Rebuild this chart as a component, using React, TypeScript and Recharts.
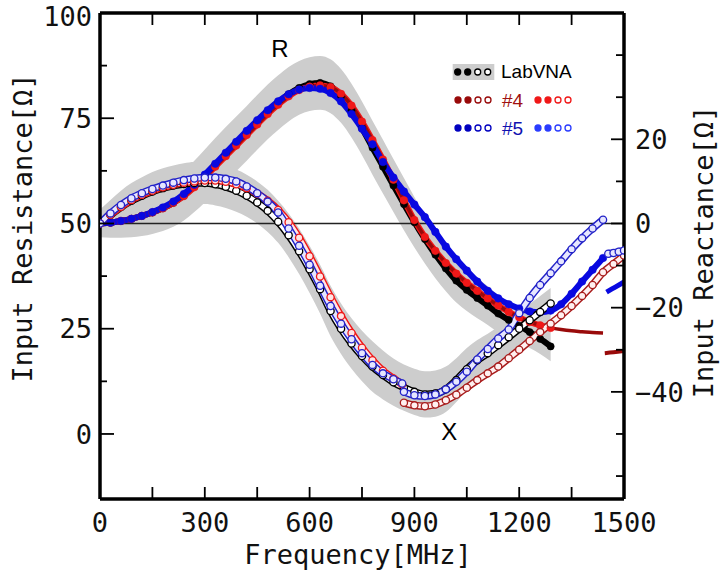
import React from 'react';
import { ComposedChart, Line, Area, XAxis, YAxis, ReferenceLine, ReferenceDot, Legend, Label } from 'recharts';

// ---------- data (frequency in MHz, R in ohm on left axis, X in ohm on right axis) ----------
const F_MAIN = [0, 30, 60, 90, 120, 150, 180, 210, 240, 270, 300, 330, 360, 390, 420, 450, 480, 510, 540, 570, 600, 630, 660, 690, 720, 750, 780, 810, 840, 870, 900, 930, 960, 990, 1020, 1050, 1080, 1110, 1140, 1170, 1200, 1230, 1260, 1290];
const F_EXT = [...F_MAIN, 1320, 1350, 1380, 1410, 1440];
const F_X1 = [...F_MAIN.slice(0, 29), 865];
const F_X2B = F_EXT.slice(29);
const F_X2D = [...F_X2B, 1470, 1500];
const F_X3B = [1455, 1470, 1485, 1500];
const F_SEG_R4 = [1445, 1470, 1500];
const F_SEG_B5 = [1450, 1475, 1500];

// LabVNA
const LAB_R = [50.0, 50.2, 50.6, 51.1, 51.8, 52.6, 53.6, 54.9, 56.6, 58.8, 61.3, 63.9, 66.4, 68.9, 71.4, 74.0, 76.5, 78.7, 80.7, 82.2, 83.1, 83.4, 82.6, 80.3, 76.8, 72.6, 68.0, 63.5, 59.0, 54.6, 50.3, 46.3, 42.6, 39.3, 36.4, 34.2, 32.3, 30.5, 28.6, 27.1, 25.7, 24.2, 22.6, 20.8];
const LAB_R_ERR = [3.3, 3.6, 4.0, 4.4, 4.8, 5.1, 5.4, 5.7, 5.9, 6.1, 6.3, 6.4, 6.5, 6.5, 6.5, 6.5, 6.5, 6.5, 6.5, 6.4, 6.4, 6.4, 6.4, 6.4, 6.4, 6.4, 6.4, 6.4, 6.3, 6.2, 6.0, 5.8, 5.6, 5.4, 5.2, 5.0, 4.8, 4.6, 4.4, 4.2, 4.0, 3.8, 3.6, 3.5];
const LAB_X = [0, 2.0, 3.9, 5.4, 6.6, 7.6, 8.4, 9.0, 9.4, 9.6, 9.6, 9.3, 8.7, 7.8, 6.6, 5.0, 3.0, 0.4, -2.8, -6.6, -10.9, -15.6, -20.8, -25.0, -28.5, -31.5, -34.0, -36.0, -37.7, -39.0, -40.0, -40.6, -40.4, -39.4, -37.2, -34.6, -32.5, -30.8, -28.9, -27.0, -25.0, -23.0, -21.0, -19.0];
const LAB_X_ERR = [3.3, 3.6, 3.9, 4.2, 4.4, 4.6, 4.7, 4.8, 4.9, 5.0, 5.0, 5.0, 5.0, 5.0, 5.0, 5.0, 5.0, 5.0, 5.2, 5.4, 5.6, 5.8, 6.0, 6.0, 6.0, 6.0, 6.0, 5.8, 5.6, 5.5, 5.5, 5.5, 5.5, 5.4, 5.2, 5.0, 4.8, 4.6, 4.4, 4.2, 4.0, 3.9, 3.8, 3.7];

// #4
const N4_R = [50.0, 50.2, 50.6, 51.1, 51.8, 52.6, 53.6, 54.9, 56.5, 58.6, 61.0, 63.5, 66.0, 68.5, 71.0, 73.5, 76.0, 78.2, 80.2, 81.7, 82.5, 82.8, 82.4, 80.8, 78.0, 74.2, 69.8, 65.2, 60.4, 55.5, 50.8, 46.8, 43.5, 40.6, 38.1, 35.9, 34.0, 32.2, 30.5, 29.0, 27.7, 26.6, 25.8, 25.2, 24.8, 24.5, 24.3, 24.1, 24.0];
const N4_R_SEG = [19.2, 19.4, 19.7];
const N4_X1 = [0, 2.1, 4.0, 5.6, 6.8, 7.8, 8.6, 9.2, 9.7, 10.0, 10.2, 10.2, 9.9, 9.3, 8.4, 7.1, 5.4, 3.2, 0.3, -3.4, -7.8, -12.6, -17.5, -22.0, -26.0, -29.5, -32.5, -35.0, -36.8, -38.2];
const N4_X2 = [-42.6, -43.2, -43.4, -43.0, -42.0, -40.7, -39.0, -37.2, -35.6, -34.0, -32.0, -30.0, -27.9, -25.8, -23.8, -21.8, -19.6, -17.2, -14.6, -11.6, -9.6, -7.6];

// #5
const N5_R = [50.0, 50.2, 50.6, 51.1, 51.8, 52.7, 53.8, 55.2, 57.0, 59.2, 61.6, 64.2, 66.8, 69.4, 72.0, 74.5, 76.9, 79.0, 80.7, 81.8, 82.2, 82.0, 81.0, 79.0, 76.0, 72.5, 68.8, 64.6, 60.9, 57.6, 54.5, 51.5, 48.0, 44.5, 41.5, 38.8, 36.2, 34.0, 32.2, 30.8, 29.8, 29.1, 28.9, 29.3, 30.8, 33.3, 36.2, 39.0, 41.8];
const N5_R_SEG = [33.7, 34.9, 36.1];
const N5_X1 = [0, 2.4, 4.4, 6.0, 7.2, 8.2, 9.0, 9.7, 10.3, 10.7, 10.9, 10.9, 10.6, 10.0, 8.8, 7.2, 5.2, 2.6, -1.2, -5.3, -9.8, -14.8, -19.6, -23.8, -27.5, -30.8, -33.6, -35.6, -37.0, -38.0];
const N5_X2 = [-40.0, -40.8, -41.0, -40.6, -39.4, -37.6, -35.2, -32.3, -29.8, -27.3, -25.2, -21.3, -17.7, -14.6, -11.8, -9.0, -6.1, -3.5, -1.2, 0.9];
const N5_X3 = [-7.2, -7.0, -6.7, -6.4];

// axis ticks
const X_TICKS = [0, 150, 300, 450, 600, 750, 900, 1050, 1200, 1350, 1500];
const X_LABELS = [0, 300, 600, 900, 1200, 1500];
const L_TICKS = [0, 12.5, 25, 37.5, 50, 62.5, 75, 87.5, 100];
const L_LABELS = [0, 25, 50, 75, 100];
const R_TICKS = [-60, -50, -40, -30, -20, -10, 0, 10, 20, 30, 40];
const R_LABELS = [-40, -20, 0, 20];

// ---------- table ----------
type Row = { f: number; [k: string]: any };
const rowMap = new Map<number, Row>();
function put(key: string, fs: number[], vs: any[]) {
  fs.forEach((f, i) => {
    let r = rowMap.get(f);
    if (!r) { r = { f }; rowMap.set(f, r); }
    r[key] = vs[i];
  });
}
put('bandR', F_MAIN, LAB_R.map((v, i) => [v - LAB_R_ERR[i], v + LAB_R_ERR[i]]));
put('bandX', F_MAIN, LAB_X.map((v, i) => [v - LAB_X_ERR[i], v + LAB_X_ERR[i]]));
put('labR', F_MAIN, LAB_R);
put('labX', F_MAIN, LAB_X);
put('n4R', F_EXT, N4_R);
put('n4Rb', F_MAIN, N4_R.slice(0, F_MAIN.length));
put('n4Rseg', F_SEG_R4, N4_R_SEG);
put('n4X1', F_X1, N4_X1);
put('n4X2', F_X2D, N4_X2);
put('n5R', F_EXT, N5_R);
put('n5Rseg', F_SEG_B5, N5_R_SEG);
put('n5X1', F_X1, N5_X1);
put('n5X2', F_X2B, N5_X2);
put('n5X3', F_X3B, N5_X3);
const TABLE = Array.from(rowMap.values()).sort((a, b) => a.f - b.f);

// ---------- styles ----------
const MONO = '"DejaVu Sans Mono", monospace';
const SANS = '"Liberation Sans", Arial, sans-serif';
const FS = 27;
const PLOT_H = 486;
const TM = 8;
const BLACK = '#000000';
const RED_B = '#f01818';
const RED_D = '#990a0a';
const BLUE_D = '#0808e0';
const BLUE_X = '#2222c8';
const BLUE_B = '#2a3cff';
const GREY = '#cdcdcd';

function XTick(p: any) {
  const { x, y, payload } = p;
  const bottom = y - TM;
  const top = bottom - PLOT_H;
  const lab = X_LABELS.includes(payload.value);
  return (
    <g>
      <line x1={x} x2={x} y1={bottom} y2={bottom - 12} stroke="#000" strokeWidth={1.8} />
      <line x1={x} x2={x} y1={top} y2={top + 12} stroke="#000" strokeWidth={1.8} />
      {lab && (
        <text x={x} y={y + 25} textAnchor="middle" fontFamily={MONO} fontSize={FS} fill="#111">{payload.value}</text>
      )}
    </g>
  );
}
function LTick(p: any) {
  const { x, y, payload } = p;
  const edge = x + TM;
  const lab = L_LABELS.includes(payload.value);
  const shift = payload.value === 100 ? 3 : 0;
  return (
    <g>
      <line x1={edge} x2={edge + (lab ? 14 : 7)} y1={y} y2={y} stroke="#000" strokeWidth={1.8} />
      {lab && (
        <text x={x} y={y + shift} dy="0.36em" textAnchor="end" fontFamily={MONO} fontSize={FS} fill="#111">{payload.value}</text>
      )}
    </g>
  );
}
function RTick(p: any) {
  const { x, y, payload } = p;
  const edge = x - TM;
  const lab = R_LABELS.includes(payload.value);
  const txt = payload.value < 0 ? '\u2212' + Math.abs(payload.value) : String(payload.value);
  return (
    <g>
      <line x1={edge} x2={edge - (lab ? 13 : 8)} y1={y} y2={y} stroke="#000" strokeWidth={1.8} />
      {lab && (
        <text x={x + 3} y={y} dy="0.36em" textAnchor="start" fontFamily={MONO} fontSize={FS} fill="#111">{txt}</text>
      )}
    </g>
  );
}

function Markers({ x, y, color }: { x: number; y: number; color: string }) {
  return (
    <g>
      {[0, 1, 2, 3].map((i) => (
        <circle key={i} cx={x + i * 10} cy={y} r={3} fill={i < 2 ? color : '#fff'} stroke={color} strokeWidth={1.3} />
      ))}
    </g>
  );
}
function LegendBox() {
  return (
    <svg width={140} height={85} style={{ display: 'block' }}>
      <rect x={7.7} y={6} width={41.6} height={16} fill={GREY} />
      <Markers x={12.7} y={14} color={BLACK} />
      <text x={56} y={19.8} fontFamily={SANS} fontSize={19} fill="#000">LabVNA</text>
      <Markers x={13} y={42} color={RED_D} />
      <text x={57} y={48.5} fontFamily={SANS} fontSize={19} fill="#a01010">#4</text>
      <Markers x={93} y={42} color={RED_B} />
      <Markers x={13} y={70} color={'#0000c0'} />
      <text x={57} y={76.5} fontFamily={SANS} fontSize={19} fill="#1010b0">#5</text>
      <Markers x={93} y={70} color={BLUE_B} />
    </svg>
  );
}

const filled = (c: string, r = 3.8) => ({ r, fill: c, stroke: c, strokeWidth: 0.5 });
const open = (c: string, fill = '#ffffff', r = 3.6) => ({ r, fill, stroke: c, strokeWidth: 1.3 });

type OpenSpec = { key: string; color: string; fill: string };
const OPEN_SERIES: OpenSpec[] = [
  { key: 'labX', color: BLACK, fill: '#ffffff' },
  { key: 'n4X1', color: RED_B, fill: '#ffe4e4' },
  { key: 'n4X2', color: '#a81c1c', fill: '#fff0f0' },
  { key: 'n5X1', color: BLUE_X, fill: '#e6e6ff' },
  { key: 'n5X2', color: BLUE_X, fill: '#e6e6ff' },
  { key: 'n5X3', color: BLUE_X, fill: '#e6e6ff' },
];

export default function App() {
  return (
    <div style={{ position: 'absolute', left: 0, top: 0, background: '#fff' }}>
      <ComposedChart width={722} height={576} data={TABLE} margin={{ top: 13, right: 8, bottom: 17, left: 10 }}>
        <XAxis
          dataKey="f" type="number" domain={[0, 1500]} allowDataOverflow ticks={X_TICKS} interval={0}
          tickSize={0} tickMargin={TM} tickLine={false} tick={(p: any) => <XTick {...p} />}
          axisLine={{ stroke: '#000', strokeWidth: 3.5 }} height={60}
        >
          <Label content={(p: any) => {
            const vb = p.viewBox || { x: 100, y: 499 };
            return <text x={vb.x + 258} y={vb.y + 65} textAnchor="middle" fontFamily={MONO} fontSize={FS} fill="#111">Frequency[MHz]</text>;
          }} />
        </XAxis>
        <YAxis
          yAxisId="left" type="number" domain={[-15.45, 100]} allowDataOverflow ticks={L_TICKS} interval={0}
          tickSize={0} tickMargin={TM} tickLine={false} tick={(p: any) => <LTick {...p} />}
          axisLine={{ stroke: '#000', strokeWidth: 3.5 }} width={90}
        >
          <Label content={(p: any) => {
            const vb = p.viewBox || { x: 10, y: 13 };
            return <text transform={`translate(${vb.x + 12}, ${vb.y + 215}) rotate(-90)`} textAnchor="middle" dominantBaseline="central" fontFamily={MONO} fontSize={FS} fill="#111">Input Resistance[Ω]</text>;
          }} />
        </YAxis>
        <YAxis
          yAxisId="right" orientation="right" type="number" domain={[-65.45, 50]} allowDataOverflow ticks={R_TICKS} interval={0}
          tickSize={0} tickMargin={TM} tickLine={false} tick={(p: any) => <RTick {...p} />}
          axisLine={{ stroke: '#000', strokeWidth: 3.5 }} width={90}
        >
          <Label content={(p: any) => {
            const vb = p.viewBox || { x: 624, y: 13 };
            return <text transform={`translate(${vb.x + 79}, ${vb.y + 239}) rotate(-90)`} textAnchor="middle" dominantBaseline="central" fontFamily={MONO} fontSize={FS} fill="#111">Input Reactance[Ω]</text>;
          }} />
        </YAxis>

        <Area yAxisId="left" dataKey="bandR" type="monotone" fill={GREY} fillOpacity={1} stroke="none" connectNulls isAnimationActive={false} activeDot={false} />
        <Area yAxisId="right" dataKey="bandX" type="monotone" fill={GREY} fillOpacity={1} stroke="none" connectNulls isAnimationActive={false} activeDot={false} />

        <ReferenceLine yAxisId="left" y={50} stroke="#222" strokeWidth={1.6} />
        <ReferenceLine yAxisId="left" y={100} stroke="#000" strokeWidth={3.5} />

        <Line yAxisId="left" dataKey="labR" type="monotone" stroke={BLACK} strokeWidth={6} dot={filled(BLACK, 3.6)} connectNulls isAnimationActive={false} activeDot={false} />
        <Line yAxisId="left" dataKey="n4Rb" type="monotone" stroke={RED_B} strokeWidth={6} dot={filled(RED_B)} connectNulls isAnimationActive={false} activeDot={false} />
        <Line yAxisId="left" dataKey="n4R" type="monotone" stroke={RED_D} strokeWidth={3.5} dot={false} connectNulls isAnimationActive={false} activeDot={false} />
        <Line yAxisId="left" dataKey="n4Rseg" type="monotone" stroke={RED_D} strokeWidth={4} dot={false} connectNulls isAnimationActive={false} activeDot={false} />
        <Line yAxisId="left" dataKey="n5R" type="monotone" stroke={BLUE_D} strokeWidth={6} dot={filled(BLUE_D)} connectNulls isAnimationActive={false} activeDot={false} />
        <Line yAxisId="left" dataKey="n5Rseg" type="monotone" stroke={BLUE_D} strokeWidth={5} dot={false} connectNulls isAnimationActive={false} activeDot={false} />

        {OPEN_SERIES.flatMap((s) => [
          <Line key={s.key + '-o'} yAxisId="right" dataKey={s.key} type="monotone" stroke={s.color} strokeWidth={7.5} dot={false} connectNulls isAnimationActive={false} activeDot={false} />,
          <Line key={s.key + '-i'} yAxisId="right" dataKey={s.key} type="monotone" stroke={s.fill} strokeWidth={4.6} dot={open(s.color, s.fill)} connectNulls isAnimationActive={false} activeDot={false} />,
        ])}

        <ReferenceDot yAxisId="left" x={515} y={91.6} r={0} fill="none" stroke="none"
          label={{ value: 'R', position: 'center', fontSize: 24, fontFamily: SANS, fill: '#000' }} />
        <ReferenceDot yAxisId="right" x={1000} y={-49.4} r={0} fill="none" stroke="none"
          label={{ value: 'X', position: 'center', fontSize: 24, fontFamily: SANS, fill: '#000' }} />

        <Legend layout="vertical" align="center" verticalAlign="middle" content={() => <LegendBox />}
          wrapperStyle={{ left: 445, top: 58, width: 140, height: 85 }} />
      </ComposedChart>
    </div>
  );
}
